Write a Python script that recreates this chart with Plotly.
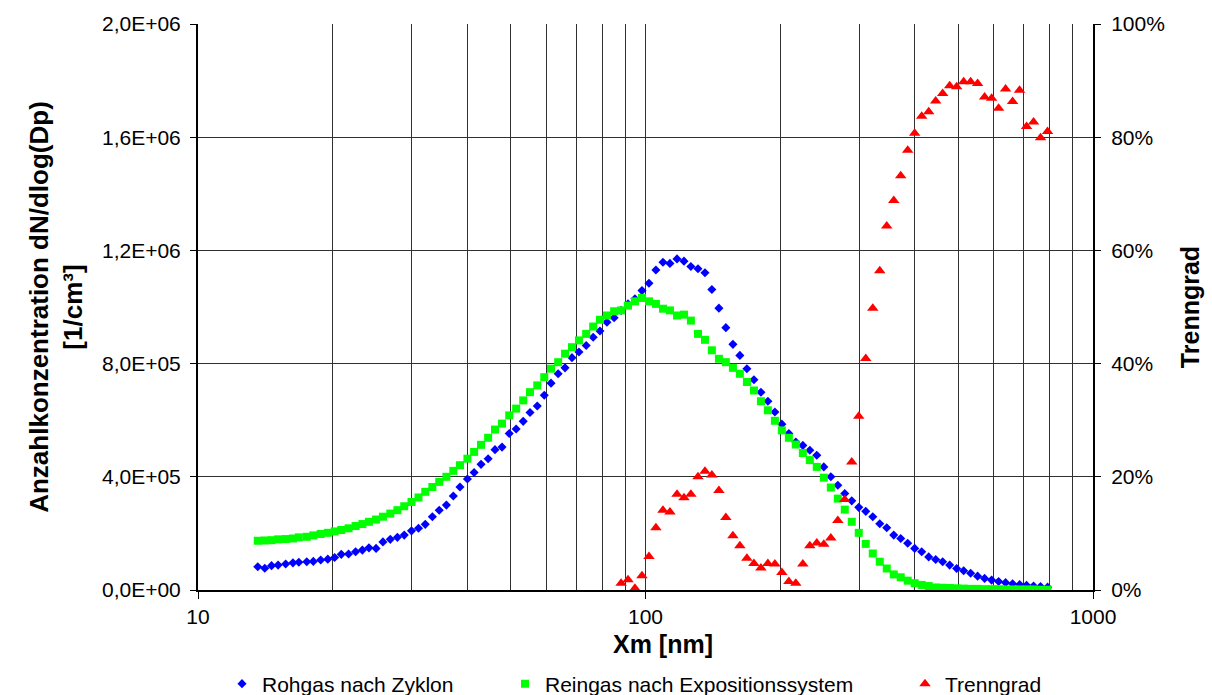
import plotly.graph_objects as go

# Particle diameter channels (nm)
diam_nm = [13.6, 14.1, 14.6, 15.1, 15.7, 16.3, 16.8, 17.5, 18.1, 18.8, 19.5,
           20.2, 20.9, 21.7, 22.5, 23.3, 24.1, 25.0, 25.9, 26.9, 27.9, 28.9,
           30.0, 31.1, 32.2, 33.4, 34.6, 35.9, 37.2, 38.5,
           40.0, 41.4, 42.9, 44.5, 46.1, 47.8, 49.6,
           51.4, 53.3, 55.2, 57.3, 59.4,
           61.5, 63.8, 66.1, 68.5,
           71.0, 73.7, 76.4, 79.1,
           82.0, 85.1, 88.2, 91.4, 94.7, 98.2,
           101.8, 105.5, 109.4, 113.4, 117.6, 121.9, 126.3, 131.0, 135.8, 140.7, 145.9,
           151.2, 156.8, 162.5, 168.5, 174.7, 181.1, 187.7, 194.6,
           201.7, 209.1, 216.7, 224.7, 232.9, 241.4, 250.3, 259.5, 269.0, 278.8, 289.0, 299.6,
           310.6, 322.0, 333.8, 346.0, 358.7, 371.8, 385.4, 399.5,
           414.2, 429.4, 445.1, 461.4, 478.3, 495.8,
           514.0, 532.8, 552.3, 572.5, 593.5,
           615.3, 637.8, 661.2, 685.4,
           710.5, 736.5, 763.5, 791.5]

# Rohgas nach Zyklon, dN/dlog(Dp) [1/cm3]
rohgas = [82000, 77000, 86000, 88000, 92000, 96000, 98000, 100000, 101000, 106000,
          109000, 115000, 126000, 127000, 135000, 141000, 149000, 147000, 170000, 179000,
          186000, 194000, 209000, 218000, 232000, 259000, 282000, 300000, 332000, 364000,
          392000, 415000, 444000, 464000, 496000, 505000, 553000, 569000, 596000, 627000,
          650000, 688000, 731000, 764000, 785000, 821000, 841000, 864000, 893000, 915000,
          946000, 962000, 988000, 1011000, 1029000, 1058000, 1084000, 1131000, 1158000, 1154000,
          1170000, 1162000, 1143000, 1135000, 1121000, 1062000, 996000, 927000, 868000, 829000,
          782000, 743000, 699000, 667000, 629000, 586000, 553000, 523000, 511000, 494000,
          476000, 435000, 400000, 370000, 341000, 315000, 292000, 278000, 259000, 234000,
          220000, 194000, 182000, 165000, 147000, 135000, 117000, 108000, 100000, 88000,
          76000, 68000, 59000, 49000, 41000, 35000, 30000, 26000, 22000, 19000,
          17000, 14000, 12000, 10000]

# Reingas nach Expositionssystem, dN/dlog(Dp) [1/cm3]
reingas = [174000, 175000, 176000, 179000, 180000, 182000, 186000, 188000, 193000, 198000,
           202000, 207000, 212000, 218000, 226000, 233000, 241000, 249000, 259000, 270000,
           282000, 296000, 311000, 327000, 347000, 364000, 382000, 400000, 421000, 441000,
           464000, 488000, 513000, 538000, 567000, 588000, 617000, 641000, 670000, 699000,
           723000, 752000, 782000, 805000, 835000, 858000, 882000, 905000, 931000, 955000,
           970000, 985000, 988000, 1005000, 1020000, 1032000, 1020000, 1011000, 994000, 988000,
           970000, 973000, 952000, 905000, 884000, 847000, 817000, 805000, 785000, 764000,
           735000, 705000, 667000, 635000, 598000, 564000, 538000, 514000, 484000, 459000,
           435000, 397000, 362000, 323000, 284000, 241000, 202000, 163000, 129000, 100000,
           76000, 55000, 45000, 33000, 24000, 18000, 14000, 9000, 8000, 7000,
           6000, 5000, 4000, 4000, 3000, 3000, 3000, 2000, 2000, 2000,
           2000, 2000, 1000, 1000]

# Trenngrad (%), from 88.2 nm onwards
trenn_diam_nm = [88.2, 91.4, 94.7, 98.2,
                 101.8, 105.5, 109.4, 113.4, 117.6, 121.9, 126.3, 131.0, 135.8, 140.7, 145.9,
                 151.2, 156.8, 162.5, 168.5, 174.7, 181.1, 187.7, 194.6,
                 201.7, 209.1, 216.7, 224.7, 232.9, 241.4, 250.3, 259.5, 269.0, 278.8, 289.0, 299.6,
                 310.6, 322.0, 333.8, 346.0, 358.7, 371.8, 385.4, 399.5,
                 414.2, 429.4, 445.1, 461.4, 478.3, 495.8,
                 514.0, 532.8, 552.3, 572.5, 593.5,
                 615.3, 637.8, 661.2, 685.4,
                 710.5, 736.5, 763.5, 791.5]
trenngrad = [1.2, 1.8, 0.3, 2.5,
             5.9, 11.0, 14.1, 13.8, 16.9, 16.3, 16.9, 20.0, 21.0, 20.3, 17.6,
             12.8, 9.6, 7.8, 5.6, 4.7, 3.9, 4.7, 4.6,
             3.1, 1.5, 1.2, 4.6, 7.8, 8.3, 8.1, 9.2, 12.3, 16.0, 22.6, 30.7,
             40.9, 49.8, 56.4, 64.3, 68.8, 73.2, 77.7, 80.7,
             83.7, 84.5, 86.4, 87.7, 89.1, 88.9,
             89.8, 89.8, 89.5, 87.1, 86.9,
             85.1, 88.5, 86.3, 88.3,
             81.9, 82.7, 79.9, 81.0]

# Axis ticks
x_major = [10, 100, 1000]
x_major_text = ["10", "100", "1000"]
x_minor = [20, 30, 40, 50, 60, 70, 80, 90, 200, 300, 400, 500, 600, 700, 800, 900]
y_tickvals = [0, 400000, 800000, 1200000, 1600000, 2000000]
y_ticktext = ["0,0E+00", "4,0E+05", "8,0E+05", "1,2E+06", "1,6E+06", "2,0E+06"]
y2_tickvals = [0, 20, 40, 60, 80, 100]
y2_ticktext = ["0%", "20%", "40%", "60%", "80%", "100%"]

FONT = "Liberation Sans, Arial, sans-serif"
GRID = "#303030"

fig = go.Figure()
fig.add_trace(go.Scatter(x=diam_nm, y=rohgas, mode="markers", name="Rohgas nach Zyklon",
                         marker=dict(symbol="diamond", size=7, color="#0000FF"),
                         legend="legend"))
fig.add_trace(go.Scatter(x=diam_nm, y=reingas, mode="markers", name="Reingas nach Expositionssystem",
                         marker=dict(symbol="square", size=8, color="#00FF00"),
                         legend="legend2"))
fig.add_trace(go.Scatter(x=trenn_diam_nm, y=trenngrad, mode="markers", name="Trenngrad",
                         marker=dict(symbol="triangle-up", size=10, color="#FF0000"),
                         yaxis="y2", legend="legend3"))

leg_common = dict(xref="container", yref="container", yanchor="middle", xanchor="left",
                  orientation="h", font=dict(family=FONT, size=21, color="#000"),
                  bgcolor="rgba(0,0,0,0)", borderwidth=0, visible=True)

fig.update_layout(
    width=1212, height=695,
    showlegend=True,
    margin=dict(l=198, r=115, t=23, b=105),
    paper_bgcolor="white", plot_bgcolor="white",
    font=dict(family=FONT, size=21, color="#000"),
    xaxis=dict(type="log", range=[1, 3], tickvals=x_major, ticktext=x_major_text,
               showgrid=True, gridcolor=GRID, gridwidth=1,
               minor=dict(tickvals=x_minor, showgrid=True, gridcolor=GRID, gridwidth=1, ticks=""),
               ticks="outside", ticklen=7, tickcolor="#000",
               showline=True, linecolor="#000", linewidth=2,
               zeroline=False, tickfont=dict(size=21)),
    yaxis=dict(range=[0, 2000000], tickvals=y_tickvals, ticktext=y_ticktext,
               showgrid=True, gridcolor=GRID, gridwidth=1,
               ticks="outside", ticklen=6, tickcolor="#000",
               showline=True, linecolor="#000", linewidth=2, zeroline=False,
               ticklabelstandoff=5,
               title=dict(text="Anzahlkonzentration dN/dlog(Dp)<br>[1/cm³]",
                          font=dict(size=26, weight="bold"), standoff=12)),
    yaxis2=dict(range=[0, 100], tickvals=y2_tickvals, ticktext=y2_ticktext,
                overlaying="y", side="right", showgrid=False,
                ticks="outside", ticklen=6, tickcolor="#000",
                showline=True, linecolor="#000", linewidth=2, zeroline=False,
                ticklabelstandoff=6,
                title=dict(text="Trenngrad", font=dict(size=25, weight="bold"), standoff=18)),
    annotations=[dict(text="<b>Xm [nm]</b>", xref="paper", yref="paper", x=0.519, y=-0.095,
                      xanchor="center", yanchor="middle", showarrow=False,
                      font=dict(family=FONT, size=25, color="#000"))],
    legend=dict(x=222 / 1212, y=11 / 695, **leg_common),
    legend2=dict(x=505 / 1212, y=11 / 695, **leg_common),
    legend3=dict(x=905 / 1212, y=11 / 695, **leg_common),
)

fig.write_html("out.html")
